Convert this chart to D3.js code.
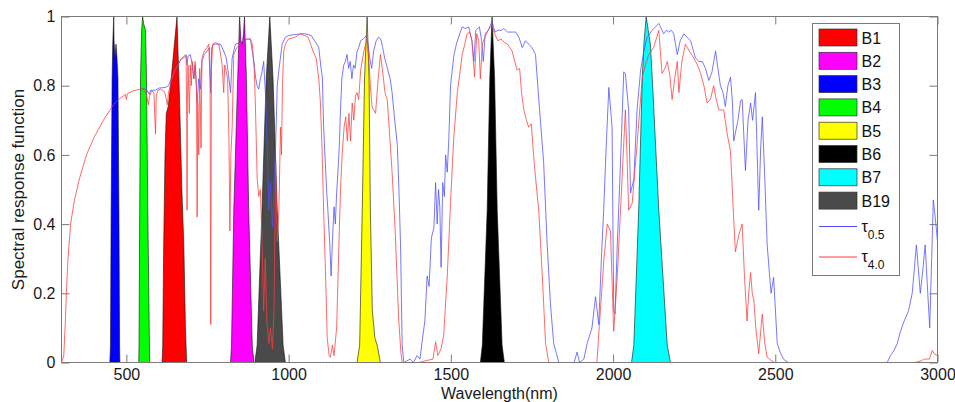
<!DOCTYPE html>
<html>
<head>
<meta charset="utf-8">
<script src="https://cdn.jsdelivr.net/npm/d3@7"></script>
<style>
  body { margin: 0; background: #fff; }
  svg text { font-family: "Liberation Sans", Arial, sans-serif; }
</style>
</head>
<body>
<svg id="chart" width="955" height="402"></svg>
<script>
// axis ticks
const xTicks = [500, 1000, 1500, 2000, 2500, 3000]
const yTicks = [0, 0.2, 0.4, 0.6, 0.8, 1]

// band spectral response functions, [wavelength nm, response]
const bandNames = ['B1', 'B2', 'B3', 'B4', 'B5', 'B6', 'B7', 'B19']
const bandColors = ['#ff0000', '#ff00ff', '#0000ff', '#00ff00', '#ffff00', '#000000', '#00ffff', '#4a4a4a']
const b1 = [[610,0],[612,0.05],[615,0.34],[619,0.6],[623,0.72],[629,0.74],[636,0.8],[646,0.9],[656,1.0],[659,0.9],[662,0.82],[665,0.72],[671,0.5],[677,0.34],[682,0.1],[685,0.02],[686,0]]
const b2 = [[821,0],[824,0.05],[831,0.44],[843,0.82],[849,1.0],[853,0.93],[857,0.92],[861,0.95],[864,1.0],[870,0.82],[877,0.44],[888,0.05],[893,0]]
const b3 = [[449,0],[451,0.05],[453,0.44],[456,0.82],[458,0.92],[461,1.0],[462,0.93],[465,0.88],[468,0.92],[471,0.88],[474,0.82],[477,0.44],[479,0.05],[480,0]]
const b4 = [[538,0],[539,0.05],[541,0.44],[543.5,0.82],[547,0.96],[550,1.0],[553,0.98],[559,0.96],[562,0.82],[566,0.44],[571,0.05],[572,0]]
const b5 = [[1211,0],[1219,0.05],[1227,0.44],[1234,0.82],[1242,1.0],[1248,0.82],[1252,0.44],[1258,0.15],[1266,0.07],[1273,0.05],[1283,0]]
const b6 = [[1591,0],[1597,0.05],[1612,0.44],[1620,0.82],[1627,1.0],[1635,0.82],[1643,0.44],[1658,0.05],[1665,0]]
const b7 = [[2057,0],[2064,0.05],[2079,0.44],[2090,0.82],[2095,0.92],[2102,1.0],[2115,0.92],[2121,0.82],[2141,0.44],[2167,0.05],[2177,0]]
const b19 = [[896,0],[903,0.05],[918,0.44],[931,0.82],[942,1.0],[952,0.82],[965,0.44],[983,0.05],[990,0]]
const bands = [b1, b2, b3, b4, b5, b6, b7, b19]

// atmospheric transmittance, tau = 0.5 (blue); below 543 nm it sits under the red one
const tau05 = [[543,0.79],[555,0.792],[565,0.785],[570,0.775],[575,0.787],[590,0.787],[600,0.793],[620,0.795],[630,0.8],[646,0.84],[656,0.855],[667,0.875],[677,0.885],[684,0.89],[687,0.86],[690,0.885],[697,0.89],[703,0.86],[708,0.82],[712,0.86],[718,0.75],[723,0.82],[728,0.79],[733,0.87],[740,0.89],[749,0.9],[756,0.91],[760,0.78],[763,0.91],[769,0.92],[780,0.92],[790,0.92],[800,0.9],[808,0.88],[815,0.83],[821,0.78],[826,0.88],[836,0.92],[852,0.925],[872,0.935],[882,0.935],[888,0.9],[893,0.87],[898,0.825],[903,0.8],[908,0.79],[913,0.82],[918,0.84],[923,0.87],[929,0.77],[934,0.63],[939,0.44],[944,0.52],[950,0.39],[955,0.5],[960,0.63],[965,0.8],[970,0.845],[980,0.92],[990,0.94],[1000,0.945],[1037,0.95],[1050,0.95],[1070,0.945],[1080,0.93],[1087,0.92],[1093,0.91],[1100,0.85],[1104,0.825],[1108,0.68],[1113,0.58],[1117,0.5],[1121,0.44],[1127,0.34],[1131,0.25],[1135,0.35],[1140,0.45],[1144,0.4],[1148,0.49],[1152,0.55],[1156,0.62],[1160,0.73],[1164,0.82],[1170,0.86],[1175,0.87],[1180,0.89],[1185,0.85],[1190,0.87],[1195,0.82],[1200,0.86],[1205,0.85],[1211,0.9],[1216,0.91],[1222,0.93],[1230,0.935],[1240,0.945],[1245,0.92],[1250,0.88],[1256,0.85],[1262,0.9],[1270,0.93],[1277,0.94],[1284,0.935],[1290,0.91],[1296,0.88],[1302,0.86],[1307,0.84],[1313,0.82],[1319,0.78],[1327,0.7],[1335,0.63],[1340,0.5],[1345,0.34],[1350,0.05],[1355,0],[1375,0.01],[1385,0],[1396,0.02],[1405,0.01],[1412,0.065],[1420,0.12],[1427,0.25],[1433,0.22],[1440,0.36],[1448,0.39],[1453,0.52],[1458,0.4],[1462,0.5],[1466,0.45],[1470,0.275],[1475,0.52],[1480,0.48],[1484,0.6],[1489,0.55],[1494,0.65],[1499,0.8],[1509,0.885],[1517,0.92],[1524,0.94],[1535,0.97],[1545,0.965],[1555,0.97],[1565,0.93],[1571,0.87],[1577,0.96],[1588,0.97],[1595,0.93],[1600,0.87],[1606,0.95],[1615,0.96],[1627,0.985],[1636,0.955],[1645,0.96],[1655,0.96],[1663,0.965],[1675,0.955],[1690,0.955],[1700,0.955],[1710,0.94],[1720,0.91],[1730,0.93],[1740,0.92],[1750,0.91],[1761,0.89],[1766,0.825],[1776,0.7],[1786,0.58],[1797,0.34],[1807,0.17],[1817,0.055],[1833,0],[1880,0],[1889,0.03],[1897,0],[1910,0.01],[1920,0.055],[1935,0.1],[1946,0.19],[1956,0.11],[1964,0.3],[1971,0.44],[1980,0.65],[1987,0.795],[1997,0.68],[2002,0.15],[2006,0.14],[2013,0.34],[2023,0.58],[2033,0.84],[2038,0.835],[2048,0.73],[2054,0.49],[2064,0.53],[2074,0.73],[2085,0.845],[2095,0.9],[2105,0.94],[2120,0.96],[2141,0.98],[2156,0.95],[2165,0.96],[2172,0.955],[2180,0.96],[2187,0.95],[2198,0.89],[2207,0.93],[2218,0.95],[2228,0.94],[2239,0.93],[2254,0.88],[2265,0.87],[2275,0.87],[2285,0.85],[2295,0.815],[2305,0.84],[2316,0.9],[2323,0.85],[2331,0.8],[2339,0.78],[2346,0.74],[2354,0.8],[2362,0.825],[2368,0.75],[2372,0.64],[2385,0.7],[2393,0.757],[2398,0.76],[2408,0.555],[2416,0.7],[2424,0.75],[2430,0.7],[2439,0.78],[2449,0.44],[2455,0.62],[2460,0.71],[2467,0.55],[2475,0.34],[2487,0.2],[2495,0.246],[2506,0.055],[2515,0.03],[2525,0.01],[2540,0],[2845,0],[2855,0.02],[2866,0.035],[2876,0.055],[2886,0.09],[2896,0.117],[2911,0.15],[2922,0.2],[2935,0.34],[2947,0.2],[2955,0.27],[2962,0.34],[2970,0.2],[2976,0.1],[2982,0.3],[2987,0.47],[2993,0.42],[2997,0.38],[3000,0.35]]

// atmospheric transmittance, tau = 4.0 (red)
const tau40 = [[300,0],[307,0.02],[312,0.12],[315,0.2],[320,0.3],[328,0.4],[340,0.47],[355,0.53],[377,0.6],[400,0.65],[429,0.7],[460,0.745],[480,0.763],[497,0.775],[500,0.76],[503,0.777],[520,0.785],[543,0.79],[552,0.79],[560,0.78],[565,0.76],[568,0.745],[571,0.77],[578,0.785],[585,0.78],[588,0.7],[590,0.66],[592,0.77],[597,0.787],[605,0.79],[615,0.785],[620,0.775],[626,0.745],[630,0.78],[640,0.82],[650,0.845],[660,0.86],[667,0.875],[675,0.88],[684,0.885],[686,0.7],[687,0.44],[688,0.75],[690,0.86],[694,0.72],[697,0.86],[700,0.8],[703,0.87],[708,0.82],[712,0.87],[716,0.8],[718,0.42],[720,0.75],[723,0.6],[726,0.85],[730,0.62],[733,0.88],[740,0.9],[748,0.91],[754,0.92],[758,0.8],[760,0.11],[762,0.85],[766,0.92],[775,0.925],[785,0.92],[792,0.88],[795,0.86],[800,0.78],[803,0.86],[808,0.84],[812,0.82],[816,0.65],[819,0.38],[822,0.6],[826,0.68],[831,0.89],[840,0.91],[852,0.92],[860,0.93],[872,0.935],[882,0.935],[888,0.92],[894,0.85],[898,0.73],[903,0.535],[908,0.48],[913,0.5],[918,0.35],[923,0.15],[928,0.3],[933,0.12],[939,0.055],[944,0.1],[950,0.04],[955,0.15],[960,0.58],[965,0.35],[970,0.44],[975,0.68],[978,0.6],[981,0.8],[985,0.9],[990,0.92],[1000,0.935],[1020,0.94],[1037,0.95],[1050,0.945],[1060,0.94],[1068,0.92],[1075,0.9],[1085,0.88],[1093,0.82],[1098,0.75],[1103,0.62],[1108,0.44],[1114,0.25],[1119,0.07],[1125,0.02],[1129,0.015],[1135,0.05],[1140,0.02],[1148,0.1],[1155,0.34],[1160,0.5],[1165,0.6],[1171,0.68],[1176,0.71],[1181,0.64],[1186,0.72],[1191,0.64],[1196,0.75],[1201,0.7],[1206,0.77],[1211,0.78],[1216,0.76],[1222,0.845],[1232,0.9],[1242,0.935],[1247,0.88],[1252,0.8],[1257,0.74],[1262,0.73],[1268,0.72],[1276,0.82],[1283,0.89],[1290,0.84],[1297,0.78],[1304,0.76],[1312,0.65],[1319,0.55],[1329,0.37],[1339,0.13],[1346,0.03],[1350,0],[1400,0],[1445,0.01],[1453,0.06],[1460,0.02],[1470,0.04],[1478,0.08],[1489,0.25],[1499,0.46],[1509,0.65],[1520,0.78],[1527,0.83],[1535,0.89],[1543,0.92],[1550,0.95],[1558,0.955],[1565,0.93],[1573,0.825],[1580,0.95],[1586,0.93],[1591,0.82],[1597,0.92],[1605,0.94],[1615,0.96],[1627,0.975],[1635,0.95],[1645,0.93],[1655,0.935],[1665,0.925],[1675,0.92],[1689,0.9],[1697,0.87],[1704,0.845],[1712,0.85],[1718,0.78],[1725,0.73],[1733,0.7],[1740,0.68],[1748,0.69],[1755,0.6],[1761,0.535],[1771,0.44],[1782,0.25],[1792,0.055],[1802,0],[1950,0],[1961,0.15],[1972,0.3],[1982,0.4],[1992,0.38],[2002,0.09],[2013,0.25],[2028,0.535],[2038,0.73],[2043,0.6],[2048,0.44],[2059,0.46],[2074,0.63],[2090,0.825],[2100,0.86],[2110,0.89],[2125,0.91],[2141,0.96],[2151,0.835],[2160,0.85],[2167,0.87],[2175,0.83],[2182,0.76],[2190,0.82],[2198,0.87],[2203,0.78],[2212,0.87],[2223,0.92],[2235,0.9],[2249,0.88],[2260,0.86],[2270,0.835],[2280,0.8],[2290,0.75],[2300,0.76],[2310,0.8],[2318,0.76],[2326,0.73],[2341,0.73],[2352,0.66],[2362,0.61],[2370,0.45],[2377,0.32],[2388,0.37],[2398,0.4],[2405,0.25],[2413,0.12],[2418,0.2],[2424,0.26],[2429,0.2],[2434,0.18],[2440,0.1],[2449,0.025],[2455,0.09],[2460,0.14],[2467,0.06],[2475,0.015],[2496,0],[2930,0],[2950,0.005],[2960,0.01],[2975,0.01],[2984,0.035],[2990,0.025],[3000,0.02]]

const svg = d3.select('#chart')
const font = '"Liberation Sans", Arial, sans-serif'

const x = d3.scaleLinear().domain([300, 3000]).range([61.5, 937.5])
const y = d3.scaleLinear().domain([0, 1]).range([362.5, 16.5])

const plot = svg.append('g')

// filled bands
const area = d3.area()
  .x(d => x(d[0]))
  .y0(y(0))
  .y1(d => y(d[1]))

plot.selectAll('path.band')
  .data(bands).enter()
  .append('path')
    .attr('class', 'band')
    .attr('d', area)
    .attr('fill', (d, i) => bandColors[i])
    .attr('stroke', '#111')
    .attr('stroke-width', 0.6)

// transmittance lines, red on top
const line = d3.line()
  .x(d => x(d[0]))
  .y(d => y(d[1]))

plot.append('path')
  .attr('d', line(tau05))
  .attr('fill', 'none')
  .attr('stroke', '#4d4dff')
  .attr('stroke-width', 0.9)
  .attr('stroke-opacity', 0.85)

plot.append('path')
  .attr('d', line(tau40))
  .attr('fill', 'none')
  .attr('stroke', '#ff3b3b')
  .attr('stroke-width', 0.9)
  .attr('stroke-opacity', 0.85)

// axes (ticks point inward, box all round)
const styleAxis = g => {
  g.select('.domain').remove()
  g.selectAll('.tick line').attr('stroke', '#7a7a7a')
  g.selectAll('.tick text')
    .attr('fill', '#1a1a1a')
    .style('font-size', '16px')
    .style('font-family', font)
}

svg.append('g')
  .attr('transform', `translate(0,${y(0)})`)
  .call(d3.axisBottom(x).tickValues(xTicks).tickSizeInner(-8).tickSizeOuter(0).tickPadding(6).tickFormat(d3.format('d')))
  .call(styleAxis)

svg.append('g')
  .attr('transform', `translate(0,${y(1)})`)
  .call(d3.axisTop(x).tickValues(xTicks).tickSizeInner(-8).tickSizeOuter(0).tickFormat(''))
  .call(styleAxis)

svg.append('g')
  .attr('transform', `translate(${x(300)},0)`)
  .call(d3.axisLeft(y).tickValues(yTicks).tickSizeInner(-8).tickSizeOuter(0).tickPadding(6).tickFormat(d3.format('~g')))
  .call(styleAxis)

svg.append('g')
  .attr('transform', `translate(${x(3000)},0)`)
  .call(d3.axisRight(y).tickValues(yTicks).tickSizeInner(-8).tickSizeOuter(0).tickFormat(''))
  .call(styleAxis)

svg.append('rect')
  .attr('x', x(300)).attr('y', y(1))
  .attr('width', x(3000) - x(300)).attr('height', y(0) - y(1))
  .attr('fill', 'none')
  .attr('stroke', '#7a7a7a')

// axis titles
svg.append('text')
  .attr('x', (x(300) + x(3000)) / 2).attr('y', 398.5)
  .attr('text-anchor', 'middle')
  .style('font-size', '16px')
  .attr('fill', '#1a1a1a')
  .text('Wavelength(nm)')

svg.append('text')
  .attr('transform', `translate(24,${(y(0) + y(1)) / 2}) rotate(-90)`)
  .attr('text-anchor', 'middle')
  .style('font-size', '17px')
  .attr('fill', '#1a1a1a')
  .text('Spectral response function')

// legend
const legend = svg.append('g').attr('transform', 'translate(812.5,23.5)')
legend.append('rect')
  .attr('width', 87).attr('height', 252)
  .attr('fill', '#fff')
  .attr('stroke', '#7a7a7a')

const rows = legend.selectAll('g.row')
  .data(bandNames).enter()
  .append('g')
    .attr('class', 'row')
    .attr('transform', (d, i) => `translate(0,${14 + i * 23.3})`)

rows.append('rect')
  .attr('x', 6.5).attr('y', -8.5)
  .attr('width', 38).attr('height', 17)
  .attr('fill', (d, i) => bandColors[i])
  .attr('stroke', '#333')
  .attr('stroke-width', 0.7)

rows.append('text')
  .attr('x', 49).attr('y', 6)
  .style('font-size', '16px')
  .attr('fill', '#111')
  .text(d => d)

const lineKeys = [
  { color: '#4d4dff', sub: '0.5', y: 203 },
  { color: '#ff3b3b', sub: '4.0', y: 233.5 }
]
const keys = legend.selectAll('g.key')
  .data(lineKeys).enter()
  .append('g')
    .attr('class', 'key')
    .attr('transform', d => `translate(0,${d.y})`)

keys.append('line')
  .attr('x1', 6.5).attr('x2', 44.5)
  .attr('stroke', d => d.color)
  .attr('stroke-width', 1)

const lab = keys.append('text')
  .attr('x', 49).attr('y', 5)
  .attr('fill', '#111')
  .style('font-size', '16px')
lab.append('tspan').text('τ')
lab.append('tspan')
  .attr('dy', 7)
  .style('font-size', '12px')
  .text(d => d.sub)
</script>
</body>
</html>
